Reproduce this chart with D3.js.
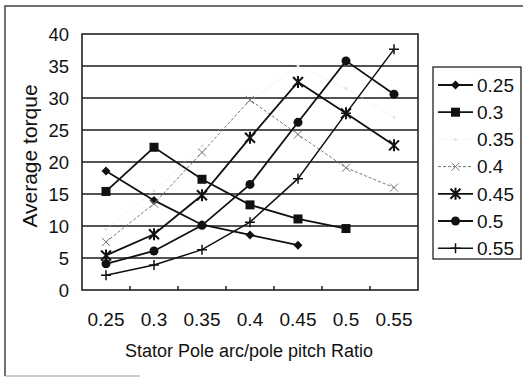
<!DOCTYPE html>
<html><head><meta charset="utf-8">
<script src="https://cdn.jsdelivr.net/npm/d3@7"></script>
<style>body{margin:0;background:#fff}svg{display:block}text{font-family:"Liberation Sans",Arial,sans-serif;fill:#111}</style>
</head><body><svg id="c" width="523" height="378"></svg>
<script>
const categories = ["0.25","0.3","0.35","0.4","0.45","0.5","0.55"];
const yTicks = [0,5,10,15,20,25,30,35,40];
const seriesNames = ["0.25","0.3","0.35","0.4","0.45","0.5","0.55"];
const s025 = [18.6, 14.0, 10.2, 8.6, 7.0];
const s030 = [15.4, 22.3, 17.3, 13.3, 11.1, 9.6];
const s035 = [9.5, 15.5, 22.5, 29.5, 35.0, 31.5, 27.0];
const s040 = [7.5, 13.5, 21.5, 29.7, 24.3, 19.1, 16.0];
const s045 = [5.4, 8.7, 14.8, 23.8, 32.5, 27.6, 22.6];
const s050 = [4.1, 6.1, 10.1, 16.5, 26.2, 35.8, 30.6];
const s055 = [2.3, 3.9, 6.3, 10.6, 17.4, 27.6, 37.6];
const seriesValues = [s025, s030, s035, s040, s045, s050, s055];
const markers = ["diamond","square","dot","x","asterisk","circle","plus"];
const colors = ["#111","#111","#e2e2e2","#777","#111","#111","#111"];
const dashes = [null,null,"1,2","3,2",null,null,null];
const widths = [1.8,1.8,1,1,1.8,1.8,1.5];

const svg = d3.select("#c");
const L=82,R=418,T=34,B=290;
const x = d3.scaleBand().domain(categories).range([L,R]);
const y = d3.scaleLinear().domain([0,40]).range([B,T]);

// outer frame
svg.append("path").attr("d","M5,376 L5,6 L523,6").attr("fill","none").attr("stroke","#444").attr("stroke-width",1.5);
svg.append("line").attr("x1",5).attr("x2",140).attr("y1",376).attr("y2",376).attr("stroke","#999").attr("stroke-width",1);

// plot bg + grid
svg.append("rect").attr("x",L).attr("y",T).attr("width",R-L).attr("height",B-T).attr("fill","#fff");
svg.append("g").selectAll("line").data(yTicks.filter(d=>d>0&&d<40)).join("line")
  .attr("x1",L).attr("x2",R).attr("y1",d=>y(d)).attr("y2",d=>y(d))
  .attr("stroke","#1a1a1a").attr("stroke-width",1.7);
svg.append("rect").attr("x",L).attr("y",T).attr("width",R-L).attr("height",B-T)
  .attr("fill","none").attr("stroke","#222").attr("stroke-width",1.6);

// axes
const yAxis = d3.axisLeft(y).tickValues(yTicks).tickSize(0).tickPadding(13);
const gy = svg.append("g").attr("transform",`translate(${L},0)`).call(yAxis);
gy.select(".domain").remove();
gy.selectAll("text").style("font-size","18.5px").attr("dy","0.36em");

const xAxis = d3.axisBottom(x).tickSize(0).tickPadding(0);
const gx = svg.append("g").attr("transform",`translate(0,${B})`).call(xAxis);
gx.select(".domain").remove();
gx.selectAll("text").style("font-size","19px").attr("dy",0).attr("y",36);
// inward ticks between categories
svg.append("g").selectAll("line").data(categories.slice(1)).join("line")
  .attr("x1",d=>x(d)).attr("x2",d=>x(d)).attr("y1",B).attr("y2",B-4)
  .attr("stroke","#222").attr("stroke-width",1.5);

svg.append("text").attr("x",249).attr("y",357).attr("text-anchor","middle").style("font-size","18px")
  .text("Stator Pole arc/pole pitch Ratio");
svg.append("text").attr("transform","translate(37,156) rotate(-90)").attr("text-anchor","middle").style("font-size","21px")
  .text("Average torque");

function drawMarker(g, type, cx, cy, color){
  const s=4.5;
  if(type==="diamond"){
    g.append("path").attr("d",`M${cx},${cy-s} L${cx+s},${cy} L${cx},${cy+s} L${cx-s},${cy} Z`).attr("fill",color);
  } else if(type==="square"){
    g.append("rect").attr("x",cx-4.5).attr("y",cy-4.5).attr("width",9).attr("height",9).attr("fill",color);
  } else if(type==="circle"){
    g.append("circle").attr("cx",cx).attr("cy",cy).attr("r",4.5).attr("fill",color);
  } else if(type==="dot"){
    g.append("circle").attr("cx",cx).attr("cy",cy).attr("r",1.5).attr("fill",color);
  } else if(type==="x"){
    g.append("path").attr("d",`M${cx-4},${cy-4} L${cx+4},${cy+4} M${cx-4},${cy+4} L${cx+4},${cy-4}`).attr("stroke",color).attr("stroke-width",1);
  } else if(type==="asterisk"){
    g.append("path").attr("d",`M${cx-5},${cy-5} L${cx+5},${cy+5} M${cx-5},${cy+5} L${cx+5},${cy-5} M${cx},${cy-6} L${cx},${cy+6}`).attr("stroke",color).attr("stroke-width",2);
  } else if(type==="plus"){
    g.append("path").attr("d",`M${cx-5},${cy} L${cx+5},${cy} M${cx},${cy-5} L${cx},${cy+5}`).attr("stroke",color).attr("stroke-width",1.5);
  }
}

const line = d3.line().x((d,i)=>x(categories[i])+x.bandwidth()/2).y(d=>y(d));
seriesValues.forEach((vals,si)=>{
  const g = svg.append("g");
  g.append("path").attr("d",line(vals)).attr("fill","none").attr("stroke",colors[si])
    .attr("stroke-width",widths[si]).attr("stroke-dasharray",dashes[si]);
  vals.forEach((v,i)=>drawMarker(g,markers[i===undefined?0:si],x(categories[i])+x.bandwidth()/2,y(v),colors[si]));
});

// legend
const lg = svg.append("g");
lg.append("rect").attr("x",433).attr("y",67).attr("width",88).attr("height",192)
  .attr("fill","#fff").attr("stroke","#222").attr("stroke-width",1.3);
seriesNames.forEach((n,i)=>{
  const cy = 85 + i*27.2;
  lg.append("line").attr("x1",438).attr("x2",473).attr("y1",cy).attr("y2",cy)
    .attr("stroke",colors[i]).attr("stroke-width",widths[i]).attr("stroke-dasharray",dashes[i]);
  drawMarker(lg,markers[i],455.5,cy,colors[i]);
  lg.append("text").attr("x",477).attr("y",cy).attr("dy","0.36em").style("font-size","19px").text(n);
});
</script></body></html>
